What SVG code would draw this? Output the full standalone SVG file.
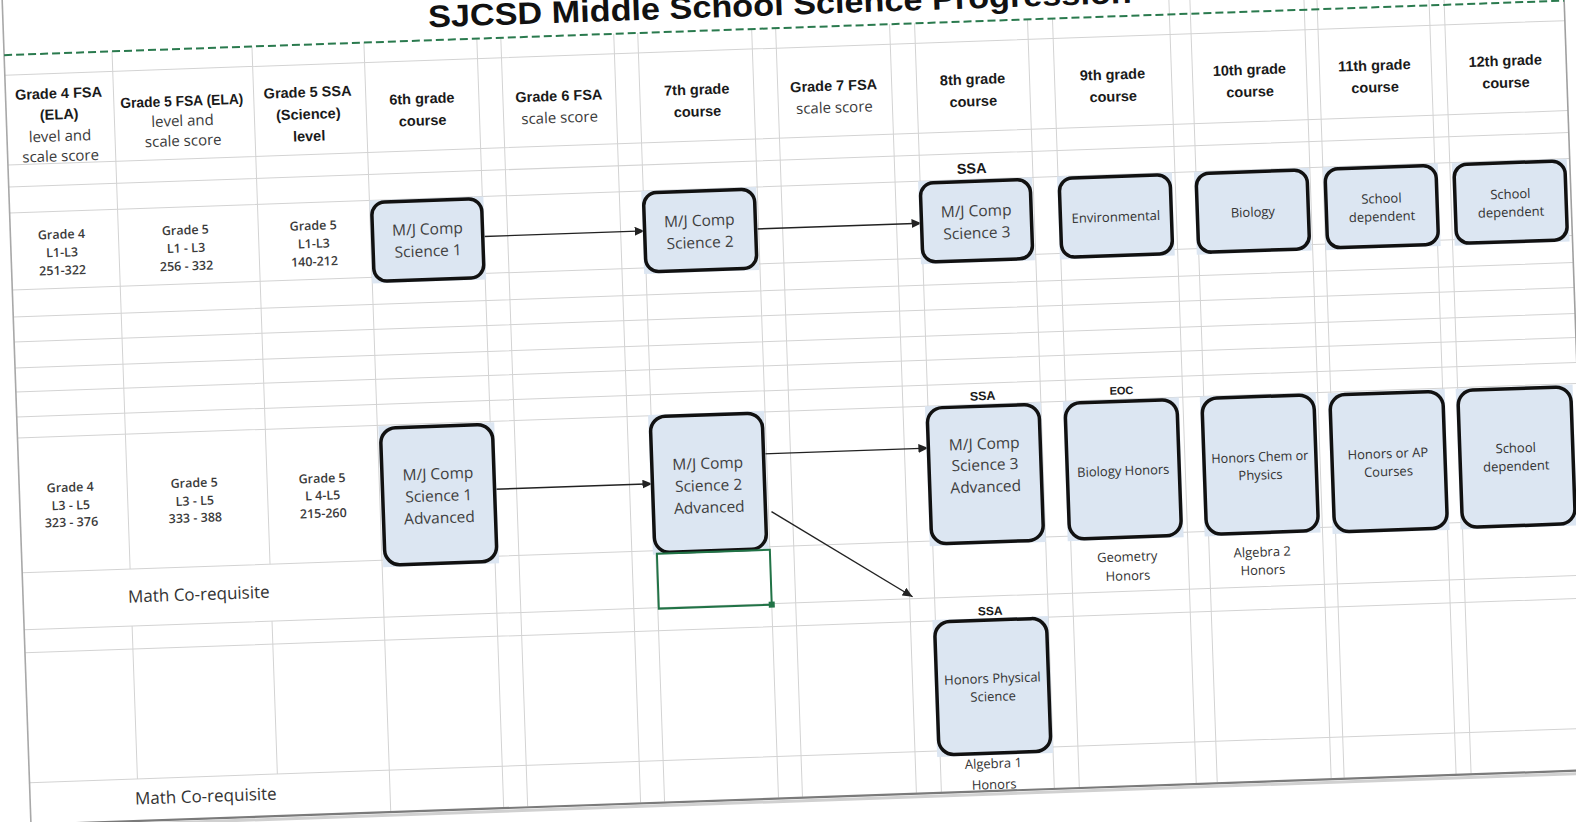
<svg xmlns="http://www.w3.org/2000/svg" width="1576" height="822" viewBox="0 0 1576 822">
<defs>
<style>
.g{stroke:#d3d3d3;stroke-width:1;fill:none}
.hb{font-family:"Liberation Sans",Arial,sans-serif;font-weight:bold;font-size:14.5px;fill:#1a1a1a;text-anchor:middle;dominant-baseline:central}
.hr{font-family:"Open Sans","Liberation Sans",sans-serif;font-size:15px;fill:#3a3a3a;text-anchor:middle;dominant-baseline:central}
.d{font-family:"Open Sans","Liberation Sans",sans-serif;font-weight:600;font-size:12.5px;fill:#3a3a3a;text-anchor:middle;dominant-baseline:central}
.bg{fill:#dce6f2}
.bx{fill:#dce6f2;stroke:#111;stroke-width:3.5}
.bt{font-family:"Open Sans","Liberation Sans",sans-serif;font-size:15.5px;fill:#404040;text-anchor:middle;dominant-baseline:central}
.st{font-family:"Open Sans","Liberation Sans",sans-serif;font-size:13px;fill:#333;text-anchor:middle;dominant-baseline:central}
.lb{font-family:"Liberation Sans",Arial,sans-serif;font-weight:bold;fill:#1a1a1a;text-anchor:middle;dominant-baseline:central}
.mc{font-family:"Open Sans","Liberation Sans",sans-serif;font-size:17px;fill:#333;dominant-baseline:central}
.cn{stroke:#222;stroke-width:1.4;fill:none;marker-end:url(#ah)}
</style>
<marker id="ah" markerUnits="userSpaceOnUse" markerWidth="11" markerHeight="9" refX="10" refY="4.5" orient="auto"><path d="M0,0 L10,4.5 L0,9 z" fill="#222"/></marker>
</defs>
<rect x="0" y="0" width="1576" height="822" fill="#ffffff"/>
<g transform="rotate(-2 788 411)">
  <rect id="sheet" x="17" y="-70" width="1561" height="867" fill="#ffffff"/>
  <g id="grid">
    <path class="g" d="M17 48H1578M17 138H1578M17 160H1578M17 186H1578M17 263H1578M17 290H1578M17 315H1578M17 341H1578M17 365H1578M17 390H1578M17 411H1578M17 546H1578M17 603H1578M17 626H1578M17 756H1578"/>
    <path class="g" d="M125 28V546M125 603V756M265 28V546M265 603V756M377 28V797M490 28V797M514 28V797M627 28V797M651 28V797M765 28V797M789 28V797M903 28V797M928 28V797M1041 28V797M1066 28V797M1183 -70V797M1204 -70V797M1318 -70V797M1331 -70V797M1443 -70V797M1458 -70V797"/>
    <path d="M17 -70V797" stroke="#a8a8a8" stroke-width="1.6" fill="none"/>
    <path d="M1578 -70V797" stroke="#a0a0a0" stroke-width="1.6" fill="none"/>
    <path d="M17 798H1578" stroke="#7a7a7a" stroke-width="2.2" fill="none"/>
    <path d="M17 801H1578" stroke="#d0d0d0" stroke-width="3" fill="none"/>
    <path d="M17 28H1578" stroke="#2a7a4e" stroke-width="2" stroke-dasharray="8 4" fill="none"/>
  </g>
  <text x="794" y="15" font-family="'Liberation Sans',Arial,sans-serif" font-weight="bold" font-size="31" fill="#111" text-anchor="middle" textLength="704" lengthAdjust="spacingAndGlyphs">SJCSD Middle School Science Progression</text>
  <g id="headers">
    <text class="hb" x="70" y="68">Grade 4 FSA</text>
    <text class="hb" x="70" y="89">(ELA)</text>
    <text class="hr" x="70" y="110">level and</text>
    <text class="hr" x="70" y="130">scale score</text>
    <text class="hb" x="193" y="80" textLength="123" lengthAdjust="spacingAndGlyphs">Grade 5 FSA (ELA)</text>
    <text class="hr" x="193" y="99">level and</text>
    <text class="hr" x="193" y="119">scale score</text>
    <text class="hb" x="319" y="75.5">Grade 5 SSA</text>
    <text class="hb" x="319" y="97.5">(Science)</text>
    <text class="hb" x="319" y="119.5">level</text>
    <text class="hb" x="433" y="86">6th grade</text>
    <text class="hb" x="433" y="108">course</text>
    <text class="hb" x="570" y="88">Grade 6 FSA</text>
    <text class="hr" x="570" y="109">scale score</text>
    <text class="hb" x="708" y="86.5">7th grade</text>
    <text class="hb" x="708" y="108.5">course</text>
    <text class="hb" x="845" y="87.5">Grade 7 FSA</text>
    <text class="hr" x="845" y="108.5">scale score</text>
    <text class="hb" x="984" y="86">8th grade</text>
    <text class="hb" x="984" y="108">course</text>
    <text class="hb" x="1124" y="86">9th grade</text>
    <text class="hb" x="1124" y="108">course</text>
    <text class="hb" x="1261" y="86">10th grade</text>
    <text class="hb" x="1261" y="108">course</text>
    <text class="hb" x="1386" y="86">11th grade</text>
    <text class="hb" x="1386" y="108">course</text>
    <text class="hb" x="1517" y="86">12th grade</text>
    <text class="hb" x="1517" y="108">course</text>
  </g>
  <g id="scores">
    <text class="d" x="68" y="209">Grade 4</text>
    <text class="d" x="68" y="227">L1-L3</text>
    <text class="d" x="68" y="245">251-322</text>
    <text class="d" x="192" y="209">Grade 5</text>
    <text class="d" x="192" y="227">L1 - L3</text>
    <text class="d" x="192" y="245">256 - 332</text>
    <text class="d" x="320" y="209">Grade 5</text>
    <text class="d" x="320" y="227">L1-L3</text>
    <text class="d" x="320" y="245">140-212</text>
    <text class="d" x="68" y="462">Grade 4</text>
    <text class="d" x="68" y="480">L3 - L5</text>
    <text class="d" x="68" y="497">323 - 376</text>
    <text class="d" x="192" y="462">Grade 5</text>
    <text class="d" x="192" y="480">L3 - L5</text>
    <text class="d" x="192" y="497">333 - 388</text>
    <text class="d" x="320" y="462">Grade 5</text>
    <text class="d" x="320" y="479">L 4-L5</text>
    <text class="d" x="320" y="497">215-260</text>
    <text class="mc" x="122" y="573">Math Co-requisite</text>
    <text class="mc" x="122" y="775">Math Co-requisite</text>
    <text class="lb" x="980" y="175" font-size="14.5">SSA</text>
    <text class="lb" x="983" y="403" font-size="12.5">SSA</text>
    <text class="lb" x="1122" y="402" font-size="11">EOC</text>
    <text class="lb" x="983" y="618" font-size="12">SSA</text>
    <text class="st" x="1122" y="568">Geometry</text>
    <text class="st" x="1122" y="587">Honors</text>
    <text class="st" x="1257" y="568">Algebra 2</text>
    <text class="st" x="1257" y="586">Honors</text>
    <text class="st" x="981" y="770" font-size="15">Algebra 1</text>
    <text class="st" x="981" y="791" font-size="15">Honors</text>
  </g>
  <g id="connectors">
    <path class="cn" d="M490 226H651"/>
    <path class="cn" d="M762 228H928"/>
    <path class="cn" d="M492 479H650"/>
    <path class="cn" d="M762 453H927"/>
    <path class="cn" d="M768 511L906 601"/>
  </g>
  <g id="n1"><rect class="bg" x="377" y="186" width="114" height="83"/><rect class="bx" x="379" y="188" width="110" height="79" rx="13"/><text class="bt" x="434" y="216">M/J Comp</text><text class="bt" x="434" y="238">Science 1</text></g>
  <g id="n2"><rect class="bg" x="649" y="186" width="115" height="83"/><rect class="bx" x="651" y="188" width="111" height="79" rx="13"/><text class="bt" x="706" y="217">M/J Comp</text><text class="bt" x="706" y="239">Science 2</text></g>
  <g id="n3"><rect class="bg" x="926" y="186" width="114" height="83"/><rect class="bx" x="928" y="188" width="110" height="79" rx="13"/><text class="bt" x="983" y="217">M/J Comp</text><text class="bt" x="983" y="239">Science 3</text></g>
  <g id="n4"><rect class="bg" x="1065" y="186" width="115" height="83"/><rect class="bx" x="1067" y="188" width="111" height="79" rx="13"/><text class="st" x="1122.5" y="228">Environmental</text></g>
  <g id="n5"><rect class="bg" x="1202" y="186" width="115" height="83"/><rect class="bx" x="1204" y="188" width="111" height="79" rx="13"/><text class="st" x="1259.5" y="228">Biology</text></g>
  <g id="n6"><rect class="bg" x="1331" y="186" width="115" height="83"/><rect class="bx" x="1333" y="188" width="111" height="79" rx="13"/><text class="st" x="1388.5" y="219">School</text><text class="st" x="1388.5" y="237">dependent</text></g>
  <g id="n7"><rect class="bg" x="1460" y="186" width="115" height="83"/><rect class="bx" x="1462" y="188" width="111" height="79" rx="13"/><text class="st" x="1517.5" y="219">School</text><text class="st" x="1517.5" y="237">dependent</text></g>
  <g id="n8"><rect class="bg" x="378" y="412" width="116" height="141"/><rect class="bx" x="380" y="414" width="112" height="137" rx="15"/><text class="bt" x="436" y="461">M/J Comp</text><text class="bt" x="436" y="483">Science 1</text><text class="bt" x="436" y="505">Advanced</text></g>
  <g id="n9"><rect class="bg" x="648" y="410" width="116" height="140"/><rect class="bx" x="650" y="412" width="112" height="136" rx="15"/><text class="bt" x="706" y="460">M/J Comp</text><text class="bt" x="706" y="482">Science 2</text><text class="bt" x="706" y="504">Advanced</text></g>
  <g id="n10"><rect class="bg" x="925" y="411" width="116" height="140"/><rect class="bx" x="927" y="413" width="112" height="136" rx="15"/><text class="bt" x="983" y="450">M/J Comp</text><text class="bt" x="983" y="471">Science 3</text><text class="bt" x="983" y="493">Advanced</text></g>
  <g id="n11"><rect class="bg" x="1063" y="411" width="116" height="140"/><rect class="bx" x="1065" y="413" width="112" height="136" rx="15"/><text class="st" x="1121" y="482">Biology Honors</text></g>
  <g id="n12"><rect class="bg" x="1200" y="411" width="116" height="140"/><rect class="bx" x="1202" y="413" width="112" height="136" rx="15"/><text class="st" x="1258" y="473" textLength="97" lengthAdjust="spacingAndGlyphs">Honors Chem or</text><text class="st" x="1258" y="491">Physics</text></g>
  <g id="n13"><rect class="bg" x="1328" y="412" width="117" height="141"/><rect class="bx" x="1330" y="414" width="113" height="137" rx="15"/><text class="st" x="1386" y="474">Honors or AP</text><text class="st" x="1386" y="492">Courses</text></g>
  <g id="n14"><rect class="bg" x="1456" y="412" width="117" height="141"/><rect class="bx" x="1458" y="414" width="113" height="137" rx="15"/><text class="st" x="1514" y="473">School</text><text class="st" x="1514" y="491">dependent</text></g>
  <g id="n15"><rect class="bg" x="925" y="625" width="116" height="137"/><rect class="bx" x="927" y="627" width="112" height="133" rx="15"/><text class="st" x="983" y="685">Honors Physical</text><text class="st" x="983" y="703">Science</text></g>
  <g id="selected-cell">
    <rect x="652" y="549" width="113" height="55" fill="none" stroke="#217346" stroke-width="2"/>
    <rect x="762" y="601" width="6" height="6" fill="#217346"/>
  </g>
</g>
</svg>
